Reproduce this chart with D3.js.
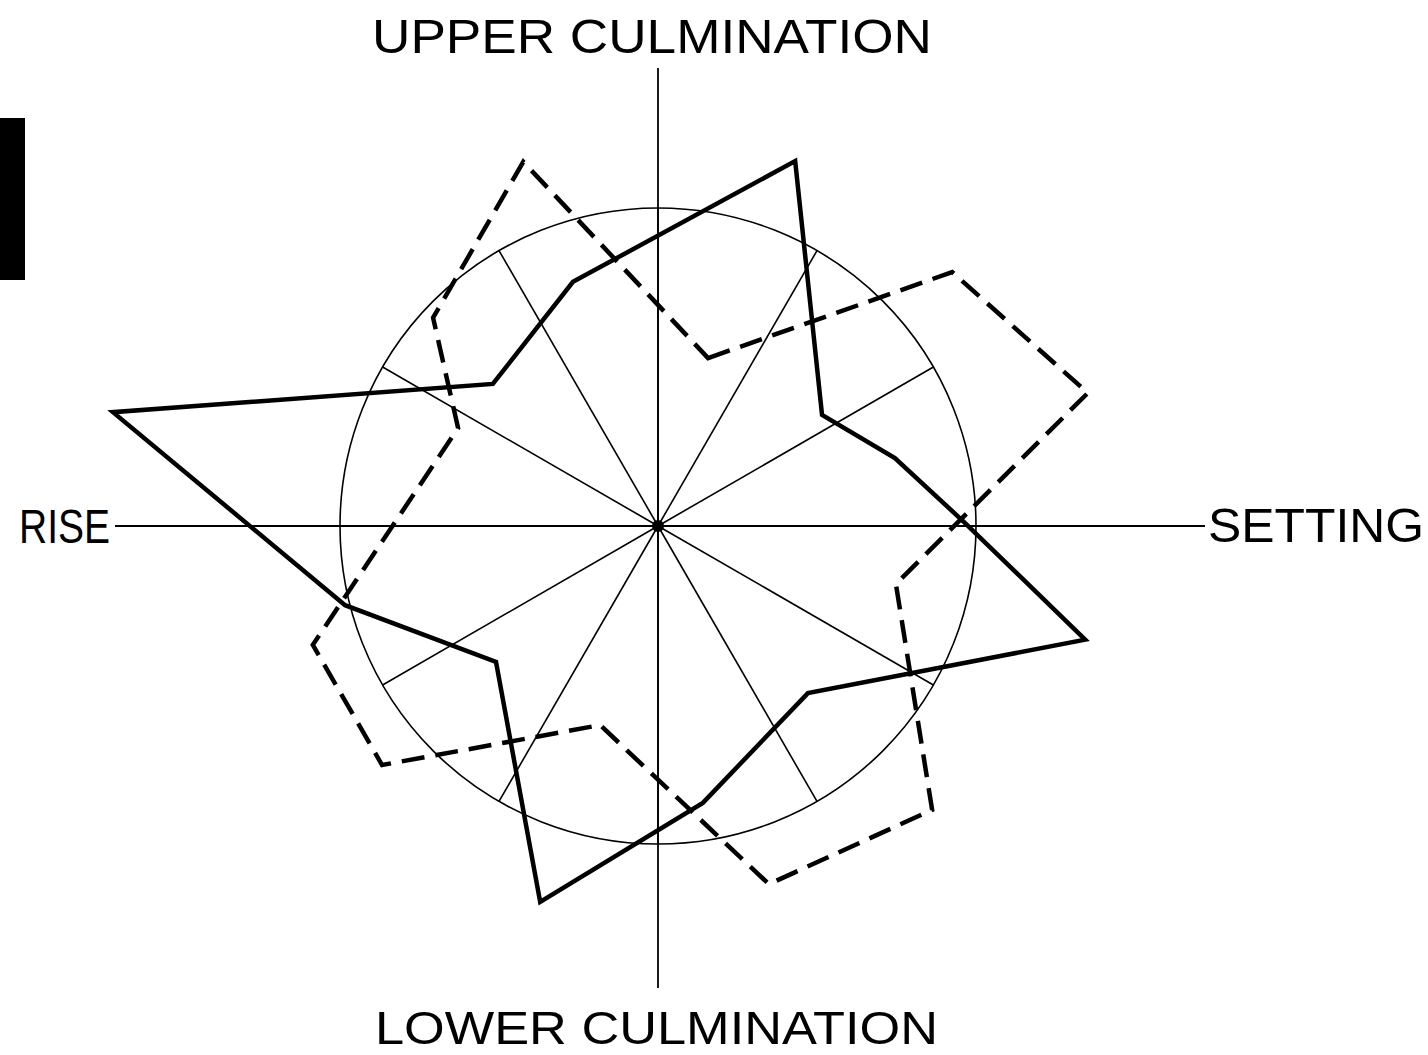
<!DOCTYPE html>
<html>
<head>
<meta charset="utf-8">
<script src="https://cdn.jsdelivr.net/npm/d3@7"></script>
<style>
  body { margin: 0; background: #fff; }
  text { font-family: "Liberation Sans", Arial, sans-serif; fill: #000; }
</style>
</head>
<body>
<div id="chart"></div>
<script>

  ///////////////////////////////////////////////////////////////////////////
  ////////////////////////////////// Data ///////////////////////////////////
  ///////////////////////////////////////////////////////////////////////////

  // angles in degrees, clockwise from upper culmination; values relative to the unit circle
  var solidAngles = [20.6, 55.9, 74.0, 89.4, 104.9, 138.1, 170.8, 197.4, 230.0, 255.8, 281.8, 310.7, 340.8]
  var solidValues = [1.226, 0.623, 0.775, 0.965, 1.390, 0.706, 0.882, 1.239, 0.665, 1.015, 1.751, 0.685, 0.813]

  var dashedAngles = [16.6, 49.2, 72.8, 103.7, 136.0, 162.8, 196.2, 229.1, 251.0, 296.1, 312.8, 339.7]
  var dashedValues = [0.551, 1.222, 1.415, 0.770, 1.241, 1.179, 0.652, 1.148, 1.148, 0.700, 0.964, 1.221]

  var spokeAngles = d3.range(0, 360, 30)
  var axisLabels = ["UPPER CULMINATION", "SETTING", "LOWER CULMINATION", "RISE"]

  ///////////////////////////////////////////////////////////////////////////
  ///////////////////////////////// Globals /////////////////////////////////
  ///////////////////////////////////////////////////////////////////////////

  var width = 1428, height = 1055
  var cx = 658, cy = 526
  var R = 318

  var rScale = d3.scaleLinear().domain([0, 1]).range([0, R])
  var rad = function(deg) { return deg * Math.PI / 180 }

  var svg = d3.select("#chart").append("svg")
    .attr("width", width)
    .attr("height", height)

  // scan smudge on the left edge
  svg.append("rect")
    .attr("x", 0).attr("y", 118)
    .attr("width", 25).attr("height", 162)
    .attr("fill", "#000")

  var g = svg.append("g")
    .attr("transform", "translate(" + cx + "," + cy + ")")

  ////////////////////////////// Grid ////////////////////////////////////////
  g.append("circle")
    .attr("r", rScale(1))
    .attr("fill", "none")
    .attr("stroke", "#000")
    .attr("stroke-width", 1.6)

  g.selectAll(".spoke").data(spokeAngles)
    .enter().append("line")
      .attr("class", "spoke")
      .attr("x1", 0).attr("y1", 0)
      .attr("x2", function(d) { return rScale(1) * Math.sin(rad(d)) })
      .attr("y2", function(d) { return -rScale(1) * Math.cos(rad(d)) })
      .attr("stroke", "#000")
      .attr("stroke-width", 1.6)

  // long axes
  g.append("line")
    .attr("x1", 0).attr("y1", -458).attr("x2", 0).attr("y2", 462)
    .attr("stroke", "#000").attr("stroke-width", 1.8)
  g.append("line")
    .attr("x1", -543).attr("y1", 0).attr("x2", 547).attr("y2", 0)
    .attr("stroke", "#000").attr("stroke-width", 1.8)

  g.append("circle").attr("r", 6).attr("fill", "#000")

  ////////////////////////////// Polygons ////////////////////////////////////
  var radial = d3.lineRadial()
    .angle(function(d) { return rad(d.a) })
    .radius(function(d) { return rScale(d.v) })
    .curve(d3.curveLinearClosed)

  var solid = solidAngles.map(function(a, i) { return { a: a, v: solidValues[i] } })
  var dashed = dashedAngles.map(function(a, i) { return { a: a, v: dashedValues[i] } })

  g.append("path")
    .attr("d", radial(dashed))
    .attr("fill", "none")
    .attr("stroke", "#000")
    .attr("stroke-width", 4.5)
    .attr("stroke-dasharray", "23,11")
    .attr("stroke-linejoin", "miter")

  g.append("path")
    .attr("d", radial(solid))
    .attr("fill", "none")
    .attr("stroke", "#000")
    .attr("stroke-width", 4.5)
    .attr("stroke-linejoin", "miter")

  ////////////////////////////// Labels //////////////////////////////////////
  var labelPos = [
    { x: 372, y: 53, len: 560, size: 48 },
    { x: 1208, y: 542, len: 216, size: 48 },
    { x: 375, y: 1044, len: 563, size: 46 },
    { x: 19, y: 543, len: 91, size: 48 }
  ]

  svg.selectAll(".label").data(axisLabels)
    .enter().append("text")
      .attr("class", "label")
      .attr("x", function(d, i) { return labelPos[i].x })
      .attr("y", function(d, i) { return labelPos[i].y })
      .attr("textLength", function(d, i) { return labelPos[i].len })
      .attr("lengthAdjust", "spacingAndGlyphs")
      .style("font-size", function(d, i) { return labelPos[i].size + "px" })
      .text(function(d) { return d })

</script>
</body>
</html>
